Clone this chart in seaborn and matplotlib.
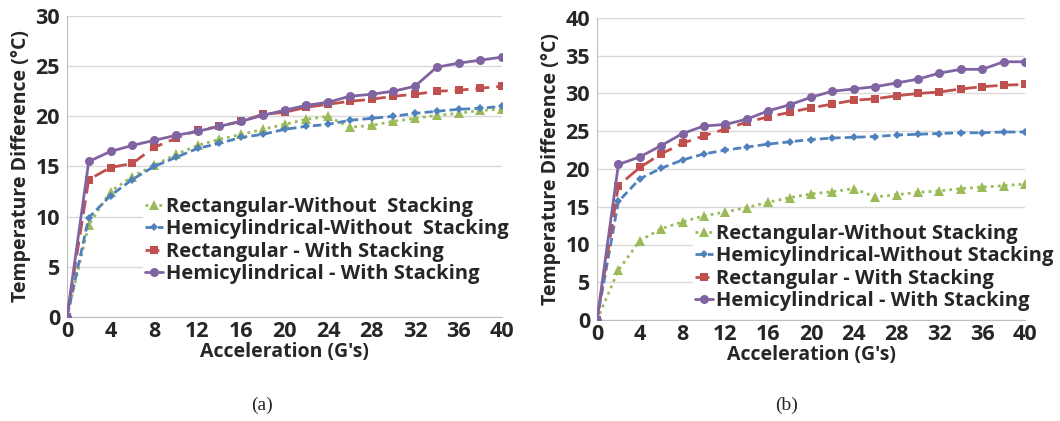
import numpy as np
import pandas as pd
import matplotlib.pyplot as plt
import seaborn as sns

# Acceleration steps (G's)
accel = list(range(0, 41, 2))

# (a) values
a_rect_without = [0, 9.2, 12.5, 14.0, 15.1, 16.2, 17.1, 17.7, 18.2, 18.7, 19.2, 19.7, 20.0,
                  18.9, 19.1, 19.5, 19.8, 20.1, 20.3, 20.6, 20.7]
a_hemi_without = [0, 9.9, 12.1, 13.7, 15.0, 15.9, 16.8, 17.3, 17.9, 18.2, 18.7, 19.0, 19.2,
                  19.6, 19.8, 20.0, 20.3, 20.5, 20.7, 20.8, 21.0]
a_rect_with = [0, 13.7, 14.9, 15.3, 16.9, 17.8, 18.6, 19.0, 19.5, 20.2, 20.4, 20.9, 21.2,
               21.5, 21.7, 22.0, 22.2, 22.5, 22.6, 22.8, 23.0]
a_hemi_with = [0, 15.5, 16.5, 17.1, 17.6, 18.1, 18.5, 19.0, 19.5, 20.1, 20.6, 21.1, 21.4,
               22.0, 22.2, 22.5, 23.0, 24.9, 25.3, 25.6, 25.9]

# (b) values
b_rect_without = [0, 6.6, 10.5, 12.1, 13.0, 13.8, 14.3, 14.9, 15.6, 16.2, 16.7, 17.0, 17.4,
                  16.3, 16.6, 16.9, 17.1, 17.4, 17.6, 17.8, 18.0]
b_hemi_without = [0, 15.7, 18.7, 20.1, 21.2, 22.0, 22.5, 22.9, 23.3, 23.6, 23.9, 24.1, 24.2,
                  24.3, 24.5, 24.6, 24.7, 24.8, 24.8, 24.9, 24.9]
b_rect_with = [0, 17.8, 20.2, 22.0, 23.4, 24.4, 25.3, 26.2, 26.9, 27.5, 28.1, 28.6, 29.1,
               29.3, 29.7, 30.0, 30.2, 30.6, 30.9, 31.1, 31.2]
b_hemi_with = [0, 20.6, 21.6, 23.1, 24.7, 25.7, 25.9, 26.6, 27.7, 28.5, 29.5, 30.3, 30.6,
               30.9, 31.4, 31.9, 32.7, 33.2, 33.2, 34.2, 34.2]

labels_a = ["Rectangular-Without  Stacking", "Hemicylindrical-Without  Stacking",
            "Rectangular - With Stacking", "Hemicylindrical - With Stacking"]
labels_b = ["Rectangular-Without Stacking", "Hemicylindrical-Without Stacking",
            "Rectangular - With Stacking", "Hemicylindrical - With Stacking"]

sns.set_style("white")
plt.rcParams['font.family'] = ['Open Sans', 'DejaVu Sans']

colors = ['#9BBB59', '#4F81BD', '#C0504D', '#8064A2']
styles = [(0, (1, 1.5)), (0, (3, 1.5)), (0, (5, 2.5)), '-']
markers = ['^', 'D', 's', 'o']
msizes = [7, 4, 6, 6.5]

fig = plt.figure(figsize=(10.6, 4.21), dpi=100)
ax_a = fig.add_axes([67 / 1060, 1 - 317 / 421, 435 / 1060, 301 / 421])
ax_b = fig.add_axes([597 / 1060, 1 - 320 / 421, 428 / 1060, 302 / 421])


def draw(ax, series, labels, ymax, leg_xy):
    for i, vals in enumerate(series):
        df = pd.DataFrame({'x': accel, 'y': vals})
        sns.lineplot(data=df, x='x', y='y', ax=ax, color=colors[i], linestyle=styles[i],
                     marker=markers[i], markersize=msizes[i], markeredgewidth=0,
                     linewidth=2, label=labels[i], zorder=3 + i)
    ax.set_xlim(0, 40)
    ax.set_ylim(0, ymax)
    ax.set_xticks(range(0, 41, 4))
    ax.set_xticks(range(0, 41, 2), minor=True)
    ax.set_yticks(range(0, ymax + 1, 5))
    ax.tick_params(axis='x', which='both', length=3, color='#bfbfbf', pad=0,
                   labelsize=15.5)
    ax.tick_params(axis='y', length=0, pad=5, labelsize=15.5)
    for t in ax.get_xticklabels() + ax.get_yticklabels():
        t.set_fontweight('bold')
    ax.grid(axis='y', color='#d9d9d9', linewidth=1)
    for s in ['top', 'right']:
        ax.spines[s].set_visible(False)
    for s in ['left', 'bottom']:
        ax.spines[s].set_color('#bfbfbf')
    ax.set_xlabel("Acceleration (G's)", fontsize=14, fontweight='bold', labelpad=0)
    ax.set_ylabel("Temperature Difference (°C)", fontsize=14, fontweight='bold',
                  labelpad=3)
    leg = ax.legend(loc='center left', bbox_to_anchor=leg_xy, bbox_transform=fig.transFigure,
                    frameon=True, facecolor='white', edgecolor='none', framealpha=1,
                    fontsize=14.5, handlelength=0.9, handletextpad=0.15, labelspacing=0.12,
                    borderpad=0.1, borderaxespad=0)
    for t in leg.get_texts():
        t.set_fontweight('bold')
    leg.set_zorder(10)


draw(ax_a, [a_rect_without, a_hemi_without, a_rect_with, a_hemi_with], labels_a, 30,
     (143 / 1060, 1 - 240.5 / 421))
draw(ax_b, [b_rect_without, b_hemi_without, b_rect_with, b_hemi_with], labels_b, 40,
     (693 / 1060, 1 - 267.5 / 421))

fig.text(262 / 1060, 1 - 405 / 421, "(a)", ha='center', va='center', fontsize=14,
         family='Liberation Serif')
fig.text(787 / 1060, 1 - 405 / 421, "(b)", ha='center', va='center', fontsize=14,
         family='Liberation Serif')

fig.savefig('out.png', dpi=100)
plt.close()
